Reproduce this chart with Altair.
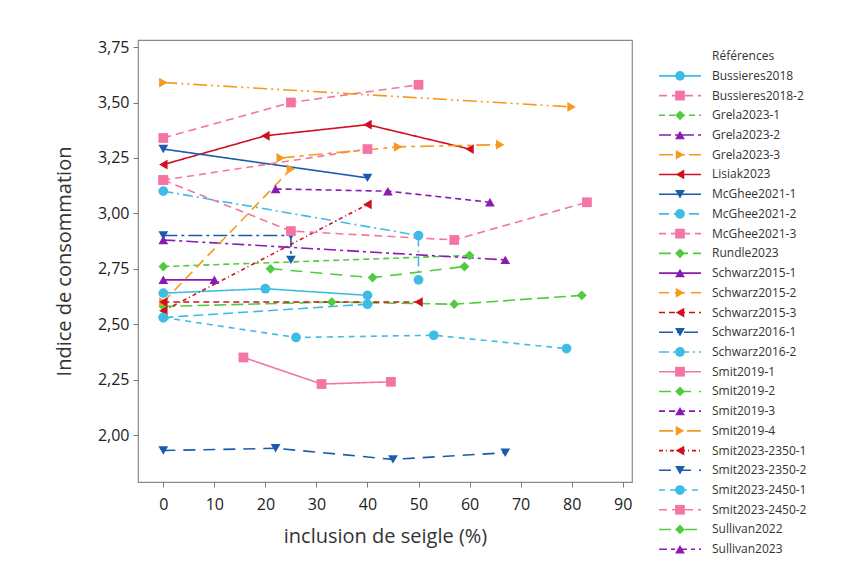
import altair as alt
import pandas as pd

FONT = "Open Sans"

x_title = "inclusion de seigle (%)"
y_title = "Indice de consommation"
legend_title = "Références"

series_names = [
    "Bussieres2018", "Bussieres2018-2", "Grela2023-1", "Grela2023-2", "Grela2023-3",
    "Lisiak2023", "McGhee2021-1", "McGhee2021-2", "McGhee2021-3", "Rundle2023",
    "Schwarz2015-1", "Schwarz2015-2", "Schwarz2015-3", "Schwarz2016-1", "Schwarz2016-2",
    "Smit2019-1", "Smit2019-2", "Smit2019-3", "Smit2019-4", "Smit2023-2350-1",
    "Smit2023-2350-2", "Smit2023-2450-1", "Smit2023-2450-2", "Sullivan2022", "Sullivan2023",
]

CYAN, PINK, GREEN, PURPLE, ORANGE, RED, BLUE = (
    "#3FBCE6", "#F574A6", "#4FCC3E", "#8A1AB2", "#F59A1E", "#D0101E", "#1B5BAF")
series_colors = [
    CYAN, PINK, GREEN, PURPLE, ORANGE, RED, BLUE,
    CYAN, PINK, GREEN, PURPLE, ORANGE, RED, BLUE,
    CYAN, PINK, GREEN, PURPLE, ORANGE, RED, BLUE,
    CYAN, PINK, GREEN, PURPLE,
]
_cycle = ["circle", "square", "diamond", "triangle-up", "triangle-right", "triangle-left", "triangle-down"]
series_shapes = [_cycle[i % 7] for i in range(25)]
series_dashes = [
    [1, 0], [8, 5], [6, 4], [12, 4, 3, 4], [14, 4, 2, 4, 2, 4],
    [1, 0], [1, 0], [10, 5], [7, 5], [12, 5],
    [1, 0], [10, 6], [6, 4], [14, 4, 3, 4], [10, 4, 2, 4],
    [1, 0], [12, 8], [6, 4], [14, 5, 4, 5], [4, 3, 1, 3],
    [12, 8], [6, 5], [8, 5], [12, 5, 4, 5], [8, 4, 4, 4],
]

x_vals = {
    "Bussieres2018": [0, 20, 40],
    "Bussieres2018-2": [0, 25, 50],
    "Grela2023-1": [0, 60],
    "Grela2023-2": [0, 67],
    "Grela2023-3": [0, 80],
    "Lisiak2023": [0, 20, 40, 60],
    "McGhee2021-1": [0, 40],
    "McGhee2021-2": [0, 40],
    "McGhee2021-3": [0, 40],
    "Rundle2023": [0, 33, 57, 82],
    "Schwarz2015-1": [0, 10],
    "Schwarz2015-2": [0, 25],
    "Schwarz2015-3": [0, 50],
    "Schwarz2016-1": [0, 25, 25],
    "Schwarz2016-2": [0, 50, 50],
    "Smit2019-1": [15.7, 31, 44.6],
    "Smit2019-2": [21, 41, 59],
    "Smit2019-3": [22, 44, 64],
    "Smit2019-4": [23, 46, 66],
    "Smit2023-2350-1": [0, 40],
    "Smit2023-2350-2": [0, 22, 45, 67],
    "Smit2023-2450-1": [0, 26, 53, 79],
    "Smit2023-2450-2": [0, 25, 57, 83],
}
y_vals = {
    "Bussieres2018": [2.64, 2.66, 2.63],
    "Bussieres2018-2": [3.34, 3.50, 3.58],
    "Grela2023-1": [2.76, 2.81],
    "Grela2023-2": [2.88, 2.79],
    "Grela2023-3": [3.59, 3.48],
    "Lisiak2023": [3.22, 3.35, 3.40, 3.29],
    "McGhee2021-1": [3.29, 3.16],
    "McGhee2021-2": [2.53, 2.59],
    "McGhee2021-3": [3.15, 3.29],
    "Rundle2023": [2.58, 2.60, 2.59, 2.63],
    "Schwarz2015-1": [2.70, 2.70],
    "Schwarz2015-2": [2.60, 3.20],
    "Schwarz2015-3": [2.60, 2.60],
    "Schwarz2016-1": [2.90, 2.90, 2.79],
    "Schwarz2016-2": [3.10, 2.90, 2.70],
    "Smit2019-1": [2.35, 2.23, 2.24],
    "Smit2019-2": [2.75, 2.71, 2.76],
    "Smit2019-3": [3.11, 3.10, 3.05],
    "Smit2019-4": [3.25, 3.30, 3.31],
    "Smit2023-2350-1": [2.56, 3.04],
    "Smit2023-2350-2": [1.93, 1.94, 1.89, 1.92],
    "Smit2023-2450-1": [2.53, 2.44, 2.45, 2.39],
    "Smit2023-2450-2": [3.15, 2.92, 2.88, 3.05],
}

x_ticks = [0, 10, 20, 30, 40, 50, 60, 70, 80, 90]
y_ticks = [2.00, 2.25, 2.50, 2.75, 3.00, 3.25, 3.50, 3.75]

rows = []
for s in series_names:
    for i, (xv, yv) in enumerate(zip(x_vals.get(s, []), y_vals.get(s, []))):
        rows.append({"serie": s, "x": xv, "y": yv, "ordre": i})
df = pd.DataFrame(rows)

color_scale = alt.Scale(domain=series_names, range=series_colors)
shape_scale = alt.Scale(domain=series_names, range=series_shapes)
dash_scale = alt.Scale(domain=series_names, range=series_dashes)

color_enc = alt.Color("serie:N", scale=color_scale, legend=None)
shape_enc = alt.Shape("serie:N", scale=shape_scale, legend=None)
dash_enc = alt.StrokeDash("serie:N", scale=dash_scale, legend=None)

x_enc = alt.X("x:Q", scale=alt.Scale(domain=[-4.96, 91.83], nice=False, zero=False),
              axis=alt.Axis(values=x_ticks, title=x_title, grid=False, domain=False,
                            tickColor="#777", tickSize=5, labelFontSize=16, labelColor="#222",
                            labelPadding=9, labelFont=FONT, titleFont=FONT, titleFontSize=20,
                            titleFontWeight="normal", titleColor="#333", titlePadding=14))
y_enc = alt.Y("y:Q", scale=alt.Scale(domain=[1.788, 3.782], nice=False, zero=False),
              axis=alt.Axis(values=y_ticks, title=y_title, grid=False, domain=False,
                            tickColor="#777", tickSize=5, labelFontSize=16, labelColor="#222",
                            labelPadding=4, labelFont=FONT, titleFont=FONT, titleFontSize=20,
                            titleFontWeight="normal", titleColor="#333", titlePadding=23,
                            labelExpr="replace(format(datum.value, '.2f'), '.', ',')"))

base = alt.Chart(df)
lines = base.mark_line(strokeWidth=1.6).encode(
    x=x_enc, y=y_enc, color=color_enc, strokeDash=dash_enc,
    order=alt.Order("ordre:Q"), detail="serie:N")
points = base.mark_point(filled=True, opacity=1, size=95).encode(
    x=x_enc, y=y_enc, color=color_enc, shape=shape_enc)

plot = alt.layer(lines, points).properties(
    width=494, height=442,
    view=alt.ViewBackground(stroke="#8a8a8a", strokeWidth=1.2))

leg_df = pd.DataFrame({"serie": series_names, "rang": list(range(len(series_names)))})
ttl_df = pd.DataFrame({"texte": [legend_title], "rang": [-1]})
ly = alt.Y("rang:Q", scale=alt.Scale(domain=[-1.818, 24.04], reverse=True, nice=False, zero=False),
           axis=None)
leg_base = alt.Chart(leg_df)
leg_rule = leg_base.mark_rule(strokeWidth=1.6).encode(
    x=alt.value(6), x2=alt.value(48), y=ly, color=color_enc, strokeDash=dash_enc)
leg_pts = leg_base.mark_point(filled=True, opacity=1, size=95).encode(
    x=alt.value(27), y=ly, color=color_enc, shape=shape_enc)
leg_txt = leg_base.mark_text(align="left", baseline="middle", fontSize=12, font=FONT,
                             color="#333").encode(x=alt.value(59), y=ly, text="serie:N")
leg_ttl = alt.Chart(ttl_df).mark_text(align="left", baseline="middle", fontSize=12, font=FONT,
                                      color="#333").encode(x=alt.value(59), y=ly, text="texte:N")
legend = alt.layer(leg_rule, leg_pts, leg_txt, leg_ttl).properties(
    width=180, height=510, view=alt.ViewBackground(strokeOpacity=0))

chart = alt.hconcat(plot, legend, spacing=20).properties(
    padding={"left": 45, "top": 30, "right": 0, "bottom": 0},
    background="white")

chart.save("out.html", embed_options={"renderer": "svg", "actions": False})
